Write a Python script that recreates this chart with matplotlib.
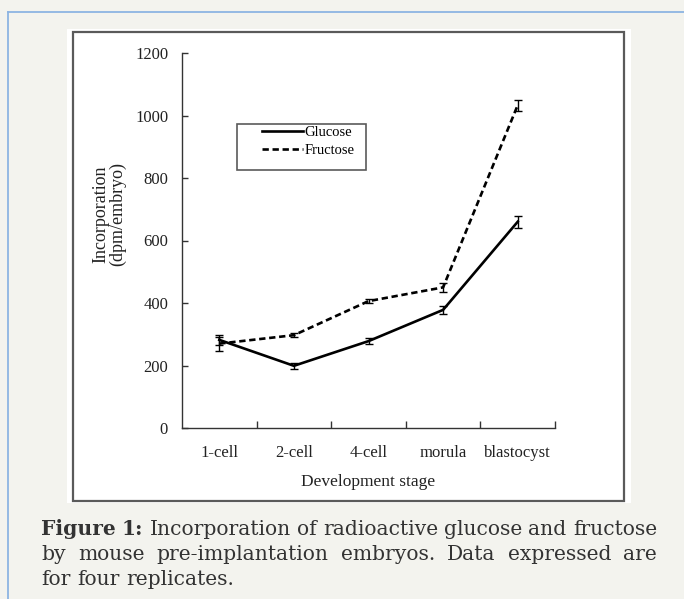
import matplotlib
matplotlib.use("Agg")
import matplotlib.pyplot as plt
import matplotlib.transforms as mtransforms
from matplotlib.patches import Rectangle
from matplotlib.lines import Line2D
import numpy as np

# ---- data ----
stages = ["1-cell", "2-cell", "4-cell", "morula", "blastocyst"]
glucose = [282, 199, 278, 378, 660]
glucose_err = [15, 9, 10, 12, 20]
fructose = [270, 297, 406, 450, 1033]
fructose_err = [22, 7, 6, 15, 17]
yticks = [0, 200, 400, 600, 800, 1000, 1200]

W, H = 684, 599
fig = plt.figure(figsize=(W / 100, H / 100), dpi=100)
fig.patch.set_facecolor("#f3f3ee")

def fx(x):
    return x / W

def fy(y):
    return 1 - y / H

# blue border lines (top and left)
fig.add_artist(Line2D([fx(8), 1], [fy(12), fy(12)], color="#8db4e2", lw=1.3))
fig.add_artist(Line2D([fx(8), fx(8)], [fy(12), 0], color="#8db4e2", lw=1.3))

# white panel and frame
fig.add_artist(Rectangle((fx(67), fy(503)), fx(631) - fx(67), fy(29) - fy(503),
                         facecolor="white", edgecolor="none", zorder=0))
fig.add_artist(Rectangle((fx(73), fy(501)), fx(624) - fx(73), fy(32) - fy(501),
                         facecolor="none", edgecolor="#5a5a5a", lw=1.6, zorder=1))

serif = ["Liberation Serif", "DejaVu Serif"]
dash = (0, (2.4, 1.4))

ax = fig.add_axes([fx(182), fy(428), fx(555) - fx(182), fy(53) - fy(428)])
ax.set_facecolor("none")
x = np.arange(len(stages)) + 0.5

ax.errorbar(x, glucose, yerr=glucose_err, color="black", lw=1.9, capsize=2.6,
            elinewidth=1.0, capthick=1.0, label="Glucose", zorder=3)
ax.errorbar(x, fructose, yerr=fructose_err, color="black", lw=1.9, capsize=2.6,
            elinewidth=1.0, capthick=1.0, ls=dash, label="Fructose", zorder=3)

ax.set_xlim(0, len(stages))
ax.set_ylim(0, 1200)
for s in ["top", "right"]:
    ax.spines[s].set_visible(False)
for s in ["left", "bottom"]:
    ax.spines[s].set_color("#333333")
    ax.spines[s].set_linewidth(1.0)

ax.set_yticks(yticks)
ax.set_yticklabels([str(v) for v in yticks], fontfamily=serif, fontsize=12, color="#222222")
ax.tick_params(axis="y", direction="in", length=4, width=1, color="#333333", pad=10)

ax.set_xticks(x)
ax.set_xticklabels(stages, fontfamily=serif, fontsize=12, color="#222222")
ax.set_xticks(np.arange(1, len(stages) + 1), minor=True)
ax.tick_params(axis="x", which="major", length=0, pad=12)
ax.tick_params(axis="x", which="minor", direction="in", length=5, width=1, color="#333333")

ax.set_xlabel("Development stage", fontfamily=serif, fontsize=12.5, color="#222222")
ax.xaxis.set_label_coords(0.5, ((H - 482) - (H - 428)) / 375.0)
ax.xaxis.label.set_va("center")

ax.set_ylabel("Incorporation\n(dpm/embryo)", fontfamily=serif, fontsize=13,
              color="#222222", linespacing=0.95)
ax.yaxis.set_label_coords((109 - 182) / 373.0, ((H - 214) - (H - 428)) / 375.0)
ax.yaxis.label.set_va("center")

# legend (frameless) plus a box drawn around it
handles = [Line2D([], [], color="black", lw=1.9),
           Line2D([], [], color="black", lw=1.9, ls=dash)]
leg = fig.legend(handles, ["Glucose", "Fructose"], loc="upper left",
                 bbox_to_anchor=(fx(262), fy(126)), frameon=False,
                 prop={"family": serif, "size": 10.5}, handlelength=2.8,
                 handletextpad=0.1, labelspacing=0.32, borderpad=0.0, borderaxespad=0.0)
fig.add_artist(Rectangle((fx(237), fy(170)), fx(366) - fx(237), fy(124) - fy(170),
                         facecolor="none", edgecolor="#5a5a5a", lw=1.2))

# caption with justified lines
cap_fs = 14.6
cap_color = "#333333"
renderer = fig.canvas.get_renderer()
ident = mtransforms.IdentityTransform()

def place_line(words, ybase, x0, x1, justify):
    objs = []
    for w, wt in words:
        t = fig.text(0, H - ybase, w, fontsize=cap_fs, family="DejaVu Serif", weight=wt,
                     color=cap_color, va="baseline", ha="left", transform=ident)
        objs.append(t)
    widths = [t.get_window_extent(renderer).width for t in objs]
    sp = fig.text(0, 0, "a a", fontsize=cap_fs, family="DejaVu Serif")
    sa = fig.text(0, 0, "aa", fontsize=cap_fs, family="DejaVu Serif")
    space = sp.get_window_extent(renderer).width - sa.get_window_extent(renderer).width
    sp.remove(); sa.remove()
    gap = space
    if justify and len(objs) > 1:
        gap = (x1 - x0 - sum(widths)) / (len(objs) - 1)
    xc = x0
    for t, wdt in zip(objs, widths):
        t.set_x(xc)
        xc += wdt + gap

line1 = [("Figure", "bold"), ("1:", "bold")] + [(w, "normal") for w in
         "Incorporation of radioactive glucose and fructose".split()]
line2 = [(w, "normal") for w in "by mouse pre-implantation embryos. Data expressed are".split()]
line3 = [(w, "normal") for w in "for four replicates.".split()]
place_line(line1, 535, 41, 657, True)
place_line(line2, 560, 41, 657, True)
place_line(line3, 585, 41, 657, False)

fig.savefig("out.png", dpi=100, facecolor=fig.get_facecolor())
